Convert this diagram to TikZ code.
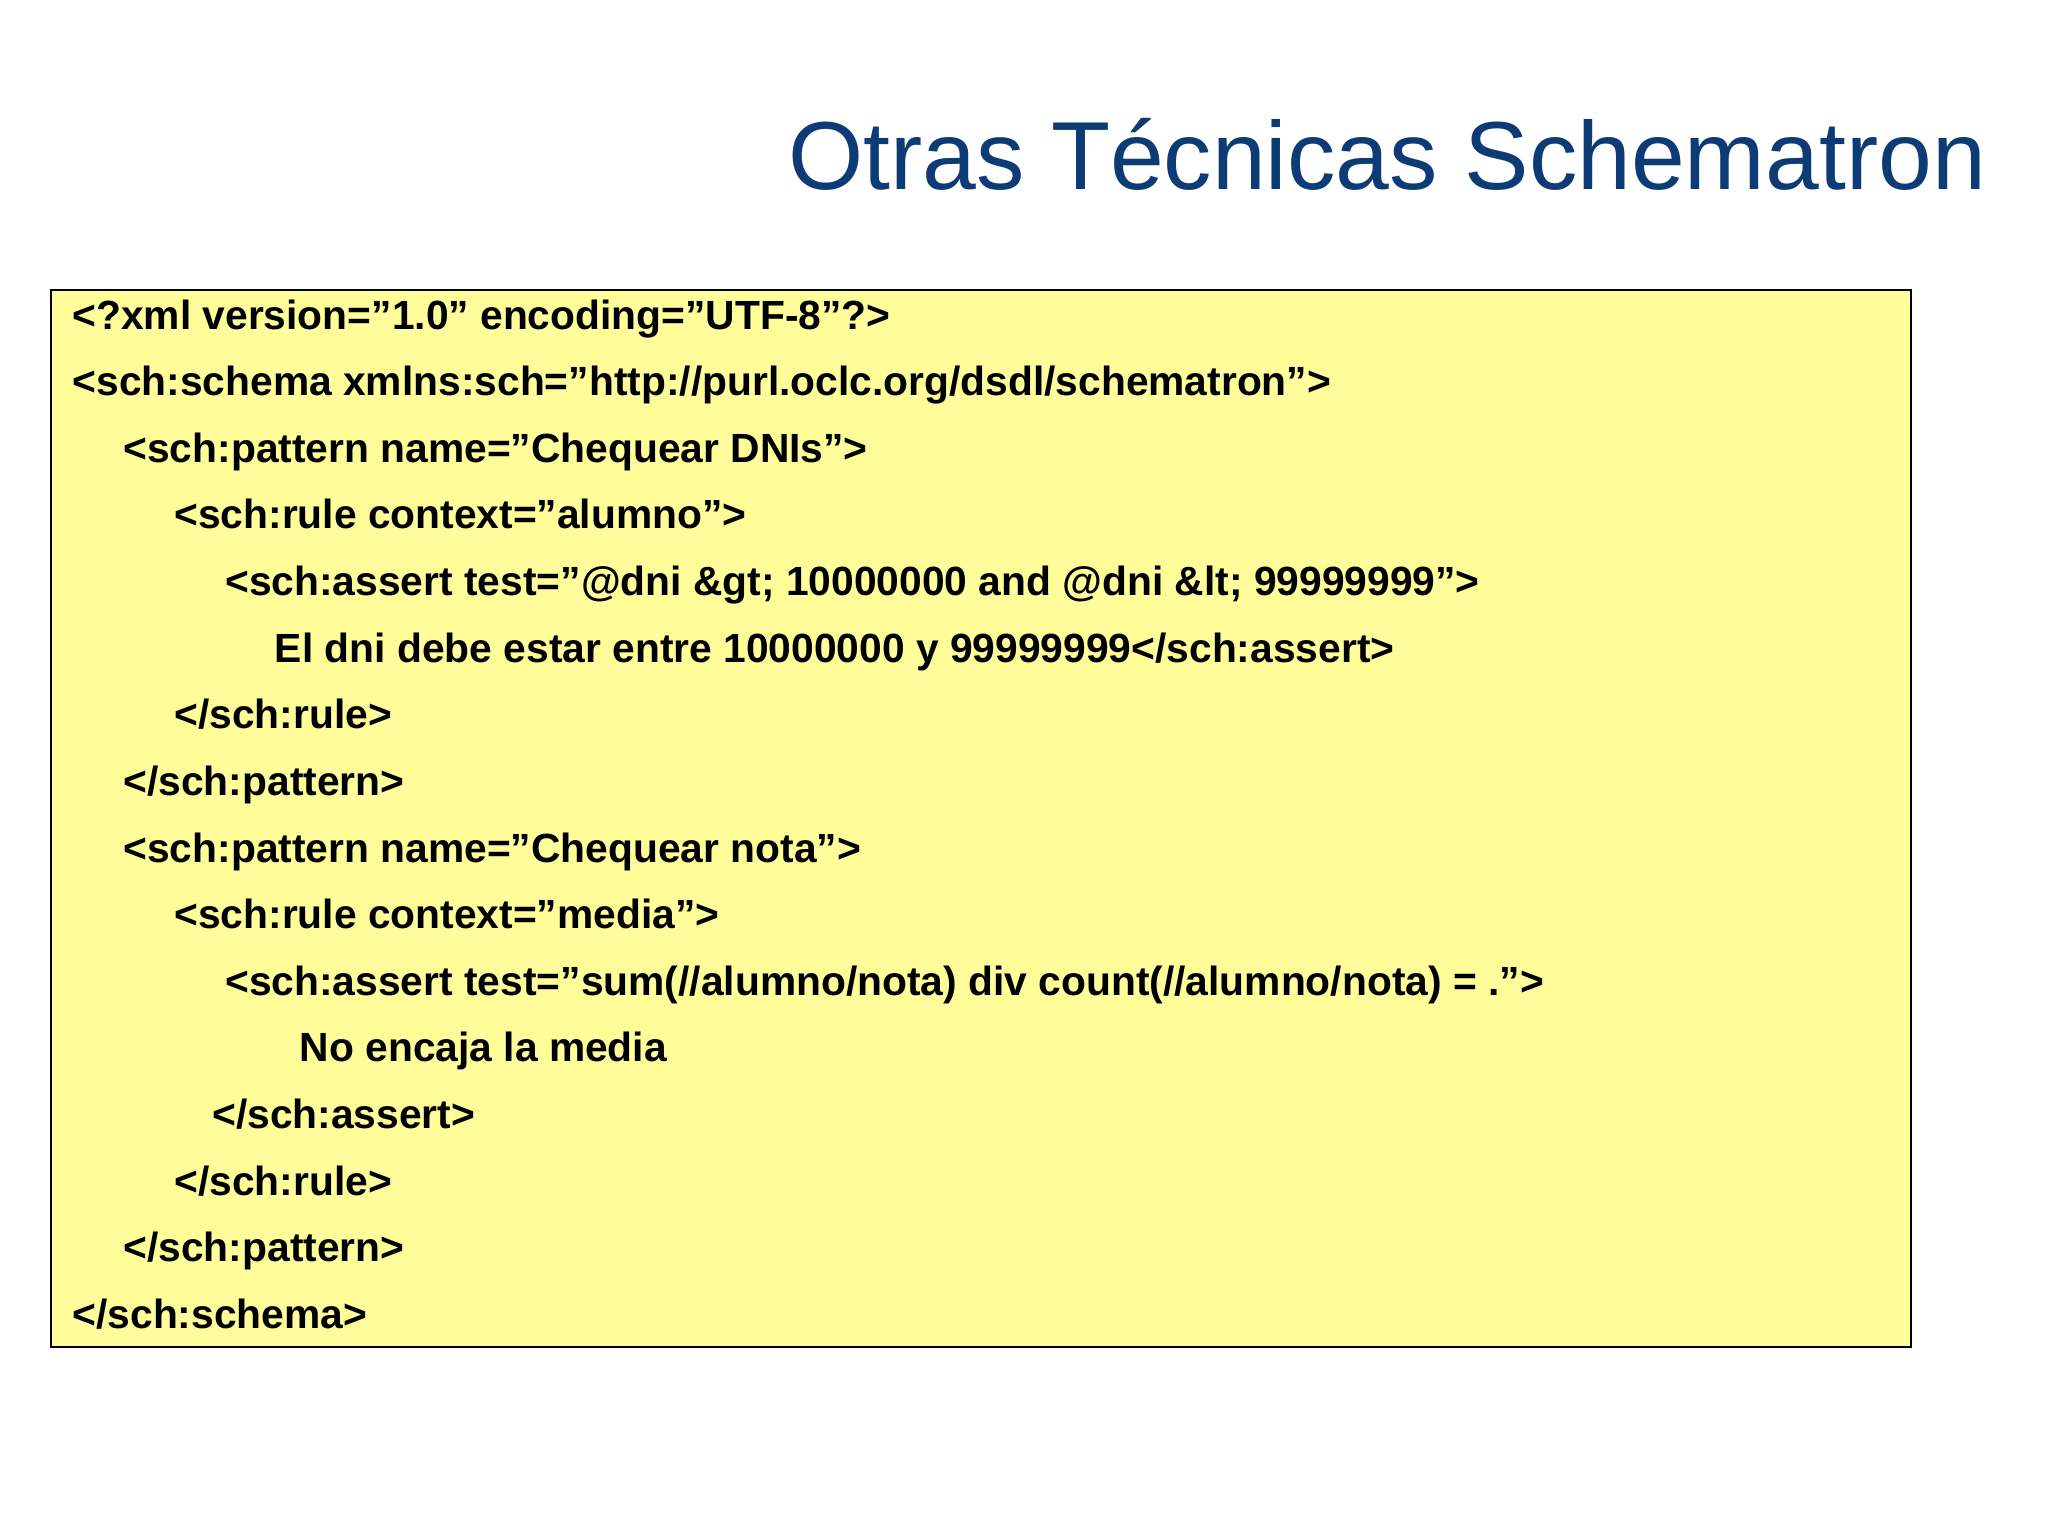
\documentclass[tikz,border=0pt]{standalone}
\usepackage{fontspec}
\setmainfont{Liberation Sans}
\definecolor{titleblue}{HTML}{0D3B75}
\definecolor{boxyellow}{HTML}{FFFD99}
\begin{document}
\begin{tikzpicture}[x=0.013061cm,y=-0.013061cm,
  code/.style={anchor=base west,inner sep=0pt,font=\fontsize{11.6pt}{14pt}\selectfont\bfseries}]
\useasboundingbox (0,0) rectangle (1568,1176);
\node[anchor=base east,inner sep=0pt,text=titleblue,font=\fontsize{27.5pt}{32pt}\selectfont] (title) at (1521,145) {Otras Técnicas Schematron};
\draw[fill=boxyellow,line width=0.6pt] (39,222) rectangle (1463,1031);
\node[code] (l1) at (55,252) {<?xml version="1.0" encoding="UTF-8"?>};
\node[code] (l2) at (55,303) {<sch:schema xmlns:sch="http://purl.oclc.org/dsdl/schematron">};
\node[code] (l3) at (94,354) {<sch:pattern name="Chequear DNIs">};
\node[code] (l4) at (133,405) {<sch:rule context="alumno">};
\node[code] (l5) at (172,456) {<sch:assert test="@dni \&gt; 10000000 and @dni \&lt; 99999999">};
\node[code] (l6) at (210,507) {El dni debe estar entre 10000000 y 99999999</sch:assert>};
\node[code] (l7) at (133,558) {</sch:rule>};
\node[code] (l8) at (94,609) {</sch:pattern>};
\node[code] (l9) at (94,660) {<sch:pattern name="Chequear nota">};
\node[code] (l10) at (133,711) {<sch:rule context="media">};
\node[code] (l11) at (172,762) {<sch:assert test="sum(//alumno/nota) div count(//alumno/nota) = .">};
\node[code] (l12) at (229,813) {No encaja la media};
\node[code] (l13) at (162,864) {</sch:assert>};
\node[code] (l14) at (133,915) {</sch:rule>};
\node[code] (l15) at (94,966) {</sch:pattern>};
\node[code] (l16) at (55,1017) {</sch:schema>};
\end{tikzpicture}
\end{document}
